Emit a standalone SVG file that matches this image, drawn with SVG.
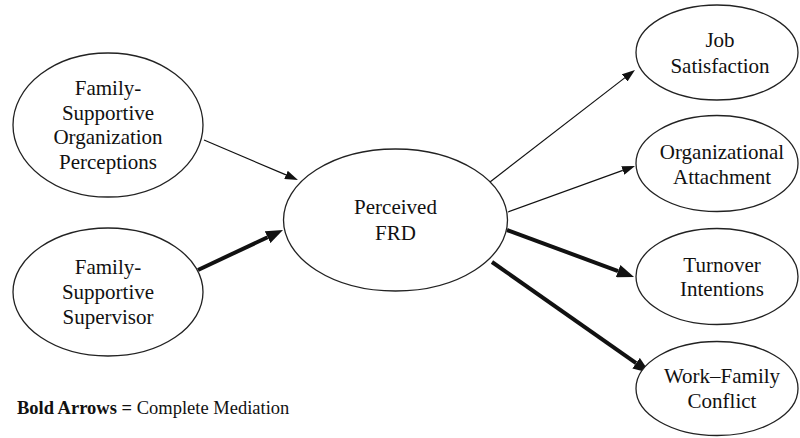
<svg xmlns="http://www.w3.org/2000/svg" width="800" height="438" viewBox="0 0 800 438">
<style>
.node ellipse{fill:#fff;stroke:#222;stroke-width:1.3}
text{font-family:'Liberation Serif','Times New Roman','DejaVu Serif',serif;fill:#111}
.node text{font-size:21px;text-anchor:middle}
.legend{text-anchor:start;font-size:18.5px}
.thin{stroke:#111;stroke-width:1.2;fill:none}
.bold{stroke:#111;stroke-width:4;fill:none}
</style>
<defs>
<marker id="ah" markerUnits="userSpaceOnUse" markerWidth="13" markerHeight="9" refX="0" refY="4.5" orient="auto"><path d="M0,0 L13,4.5 L0,9 z" fill="#111"/></marker>
<marker id="ahb" markerUnits="userSpaceOnUse" markerWidth="17" markerHeight="13" refX="0" refY="6.5" orient="auto"><path d="M0,0 L17,6.5 L0,13 z" fill="#111"/></marker>
</defs>
<rect width="800" height="438" fill="#fff"/>
<g id="connectors">
<line class="thin" x1="204" y1="140" x2="286" y2="174.9" marker-end="url(#ah)"/>
<line class="bold" x1="198" y1="270" x2="267.6" y2="237.2" marker-end="url(#ahb)"/>
<line class="thin" x1="490" y1="182" x2="624.7" y2="77.9" marker-end="url(#ah)"/>
<line class="thin" x1="508" y1="212" x2="622.8" y2="170.4" marker-end="url(#ah)"/>
<line class="bold" x1="507" y1="230" x2="618.1" y2="271.1" marker-end="url(#ahb)"/>
<line class="bold" x1="492" y1="262" x2="636.1" y2="363.2" marker-end="url(#ahb)"/>
</g>
<g id="fsop" class="node"><ellipse cx="108" cy="125" rx="95" ry="72"/>
<text x="108" y="95">Family-</text><text x="108" y="119.5">Supportive</text><text x="108" y="144">Organization</text><text x="108" y="168.5">Perceptions</text></g>
<g id="fss" class="node"><ellipse cx="108" cy="292" rx="95" ry="64"/>
<text x="108" y="274">Family-</text><text x="108" y="299">Supportive</text><text x="108" y="324">Supervisor</text></g>
<g id="frd" class="node"><ellipse cx="395.5" cy="220" rx="112" ry="71"/>
<text x="395.5" y="214">Perceived</text><text x="395.5" y="240">FRD</text></g>
<g id="js" class="node"><ellipse cx="717" cy="52.5" rx="81" ry="47.5"/>
<text x="720" y="47">Job</text><text x="720" y="73">Satisfaction</text></g>
<g id="oa" class="node"><ellipse cx="717" cy="163.5" rx="81" ry="48"/>
<text x="722" y="159">Organizational</text><text x="722" y="184">Attachment</text></g>
<g id="ti" class="node"><ellipse cx="717" cy="276.5" rx="81" ry="48"/>
<text x="722" y="272">Turnover</text><text x="722" y="296">Intentions</text></g>
<g id="wfc" class="node"><ellipse cx="717" cy="388.5" rx="81" ry="47"/>
<text x="722" y="383">Work–Family</text><text x="722" y="408">Conflict</text></g>
<text class="legend" x="17" y="414"><tspan font-weight="bold">Bold Arrows =</tspan> Complete Mediation</text>
</svg>
